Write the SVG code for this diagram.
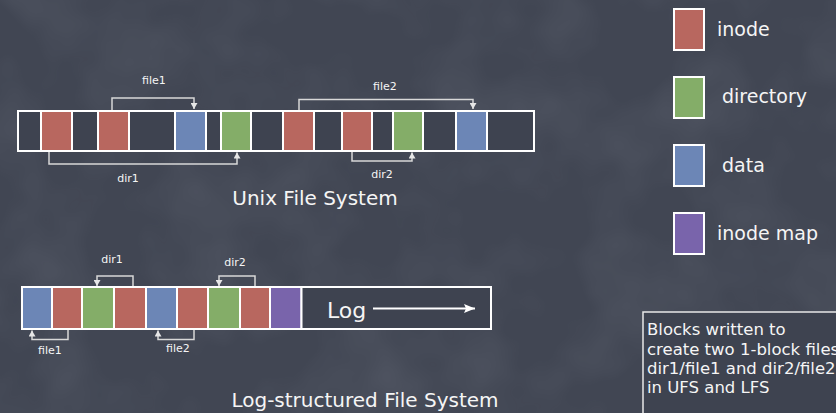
<svg xmlns="http://www.w3.org/2000/svg" width="836" height="413" viewBox="0 0 836 413">
  <defs>
    <filter id="chalk" x="0" y="0" width="100%" height="100%">
      <feTurbulence type="fractalNoise" baseFrequency="0.012" numOctaves="3" seed="7" result="n"/>
      <feColorMatrix in="n" type="matrix" values="0 0 0 0 0.55  0 0 0 0 0.58  0 0 0 0 0.66  0 0 0 0.9 -0.35"/>
    </filter>
    <marker id="tip" markerUnits="userSpaceOnUse" markerWidth="7" markerHeight="7" refX="6" refY="3.5" orient="auto">
      <path d="M0,0 L6,3.5 L0,7 z" fill="#e6e6e6"/>
    </marker>
    <marker id="logtip" markerUnits="userSpaceOnUse" markerWidth="12" markerHeight="10" refX="11" refY="5" orient="auto">
      <path d="M0,0.5 L11,5 L0,9.5 L2,5 z" fill="#ffffff"/>
    </marker>
    <style>
      text { font-family: "DejaVu Sans", "Noto Sans", sans-serif; fill: #f5f5f5; }
      .small { font-size: 11px; text-anchor: middle; }
      .title { font-size: 20px; text-anchor: middle; }
      .legend { font-size: 19px; }
      .note { font-size: 16.5px; }
      .cell { stroke: #ffffff; stroke-width: 2; }
      .empty { fill: #3e4350; }
      .inode { fill: #b8675f; }
      .dir { fill: #84ad68; }
      .data { fill: #6c86b6; }
      .imap { fill: #7964ab; }
      .link { fill: none; stroke: #d8d8d8; stroke-width: 1.5; marker-end: url(#tip); }
    </style>
  </defs>

  <!-- chalkboard background -->
  <rect width="836" height="413" fill="#414653"/>
  <rect width="836" height="413" filter="url(#chalk)" opacity="0.2"/>

  <!-- Unix File System disk layout -->
  <g id="ufs-disk">
    <rect class="cell empty" x="18" y="111" width="23" height="40"/>
    <rect class="cell inode" x="41" y="111" width="31" height="40"/>
    <rect class="cell empty" x="72" y="111" width="26" height="40"/>
    <rect class="cell inode" x="98" y="111" width="31" height="40"/>
    <rect class="cell empty" x="129" y="111" width="46" height="40"/>
    <rect class="cell data" x="175" y="111" width="31" height="40"/>
    <rect class="cell empty" x="206" y="111" width="15" height="40"/>
    <rect class="cell dir" x="221" y="111" width="30" height="40"/>
    <rect class="cell empty" x="251" y="111" width="32" height="40"/>
    <rect class="cell inode" x="283" y="111" width="31" height="40"/>
    <rect class="cell empty" x="314" y="111" width="28" height="40"/>
    <rect class="cell inode" x="342" y="111" width="30" height="40"/>
    <rect class="cell empty" x="372" y="111" width="21" height="40"/>
    <rect class="cell dir" x="393" y="111" width="30" height="40"/>
    <rect class="cell empty" x="423" y="111" width="33" height="40"/>
    <rect class="cell data" x="456" y="111" width="31" height="40"/>
    <rect class="cell empty" x="487" y="111" width="47" height="40"/>
  </g>

  <!-- Log-structured File System log -->
  <g id="lfs-log">
    <rect class="cell data" x="22" y="287" width="30" height="42"/>
    <rect class="cell inode" x="52" y="287" width="30" height="42"/>
    <rect class="cell dir" x="82" y="287" width="32" height="42"/>
    <rect class="cell inode" x="114" y="287" width="32" height="42"/>
    <rect class="cell data" x="146" y="287" width="31" height="42"/>
    <rect class="cell inode" x="177" y="287" width="31" height="42"/>
    <rect class="cell dir" x="208" y="287" width="32" height="42"/>
    <rect class="cell inode" x="240" y="287" width="30" height="42"/>
    <rect class="cell imap" x="270" y="287" width="31.5" height="42"/>
    <rect class="cell empty" x="301.5" y="287" width="189.5" height="42"/>
    <text x="327" y="318" style="font-size:22px">Log</text>
    <path d="M373,308.5 H475" stroke="#ffffff" stroke-width="2" fill="none" marker-end="url(#logtip)"/>
  </g>

  <!-- pointers between blocks -->
  <g id="connectors">
    <path class="link" d="M112,110 V98 H194 V109"/>
    <path class="link" d="M49,152 V164 H237 V152.5"/>
    <path class="link" d="M299,110 V99.5 H473 V109"/>
    <path class="link" d="M352,152 V161 H412 V152.5"/>
    <path class="link" d="M133,286 V276 H97 V286"/>
    <path class="link" d="M255,286 V276 H219 V286"/>
    <path class="link" d="M68,330 V339.5 H32 V330.5"/>
    <path class="link" d="M194,330 V339.5 H158 V330.5"/>
  </g>

  <g id="labels">
    <text class="small" x="154" y="84">file1</text>
    <text class="small" x="128" y="182">dir1</text>
    <text class="small" x="385" y="90">file2</text>
    <text class="small" x="382" y="178">dir2</text>
    <text class="small" x="112" y="263">dir1</text>
    <text class="small" x="235" y="266">dir2</text>
    <text class="small" x="50" y="354">file1</text>
    <text class="small" x="178" y="352">file2</text>
    <text class="title" x="315" y="205">Unix File System</text>
    <text class="title" x="365" y="407">Log-structured File System</text>
  </g>

  <!-- block type key -->
  <g id="legend-inode">
    <rect class="cell inode" x="674" y="9" width="30" height="41"/>
    <text class="legend" x="717" y="36">inode</text>
  </g>
  <g id="legend-directory">
    <rect class="cell dir" x="674" y="77" width="30" height="41"/>
    <text class="legend" x="722" y="103">directory</text>
  </g>
  <g id="legend-data">
    <rect class="cell data" x="674" y="145" width="30" height="41"/>
    <text class="legend" x="722" y="172">data</text>
  </g>
  <g id="legend-imap">
    <rect class="cell imap" x="674" y="213" width="30" height="41"/>
    <text class="legend" x="717" y="240">inode map</text>
  </g>

  <!-- caption box, running off the right and bottom edges -->
  <g id="note">
    <rect x="643" y="312" width="220" height="120" fill="#3e4350" stroke="#e8e8e8" stroke-width="1.5"/>
    <text class="note" x="647" y="335">Blocks written to</text>
    <text class="note" x="647" y="355">create two 1-block files</text>
    <text class="note" x="647" y="374">dir1/file1 and dir2/file2</text>
    <text class="note" x="647" y="393">in UFS and LFS</text>
  </g>
</svg>
